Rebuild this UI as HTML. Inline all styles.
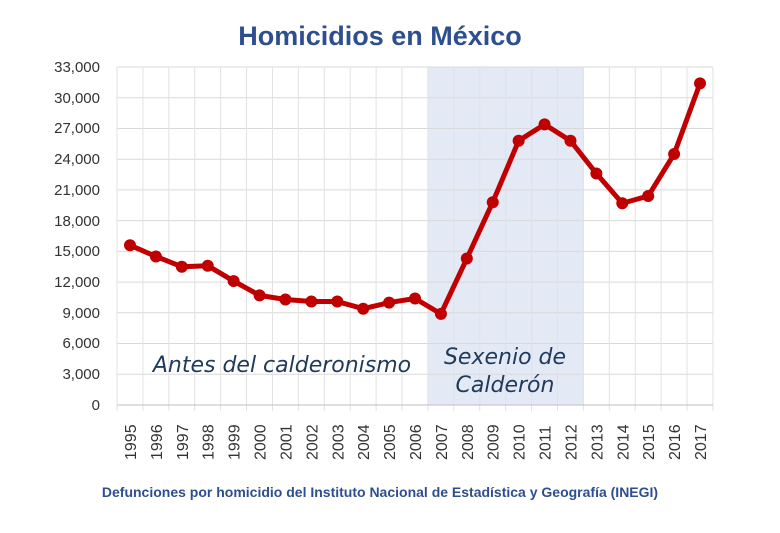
<!DOCTYPE html>
<html><head><meta charset="utf-8"><style>
html,body{margin:0;padding:0;background:#fff;}
svg{display:block;}
</style></head><body>
<svg width="780" height="533" xmlns="http://www.w3.org/2000/svg" font-family="Liberation Sans, sans-serif">
<rect width="780" height="533" fill="#fff"/>
<text x="380" y="45" text-anchor="middle" font-size="27" font-weight="bold" fill="#2e4f8f">Homicidios en México</text>
<rect x="428" y="67" width="156" height="338" fill="#e3e9f5"/>
<g stroke="#d9d9d9" stroke-width="1">
<line x1="117" y1="67" x2="713" y2="67"/><line x1="117" y1="97.7" x2="713" y2="97.7"/><line x1="117" y1="128.5" x2="713" y2="128.5"/><line x1="117" y1="159.2" x2="713" y2="159.2"/><line x1="117" y1="189.9" x2="713" y2="189.9"/><line x1="117" y1="220.6" x2="713" y2="220.6"/><line x1="117" y1="251.4" x2="713" y2="251.4"/><line x1="117" y1="282.1" x2="713" y2="282.1"/><line x1="117" y1="312.8" x2="713" y2="312.8"/><line x1="117" y1="343.5" x2="713" y2="343.5"/><line x1="117" y1="374.3" x2="713" y2="374.3"/>
</g>
<g stroke="#e2e2e2" stroke-width="1" id="vg"></g>
<line x1="117" y1="405" x2="713" y2="405" stroke="#bfbfbf"/>
<g font-size="15" fill="#333" text-anchor="end">
<text x="100" y="72">33,000</text><text x="100" y="103">30,000</text><text x="100" y="133">27,000</text><text x="100" y="164">24,000</text><text x="100" y="195">21,000</text><text x="100" y="226">18,000</text><text x="100" y="256">15,000</text><text x="100" y="287">12,000</text><text x="100" y="318">9,000</text><text x="100" y="348">6,000</text><text x="100" y="379">3,000</text><text x="100" y="410">0</text>
</g>
<g id="xl" font-size="16" fill="#333"></g>
<text x="282" y="372" text-anchor="middle" font-size="22" font-style="italic" fill="#1f3a5a" font-family="DejaVu Sans, sans-serif">Antes del calderonismo</text>
<text x="505" y="364" text-anchor="middle" font-size="22" font-style="italic" fill="#1f3a5a" font-family="DejaVu Sans, sans-serif">Sexenio de</text>
<text x="505" y="392" text-anchor="middle" font-size="22" font-style="italic" fill="#1f3a5a" font-family="DejaVu Sans, sans-serif">Calderón</text>
<polyline id="ln" fill="none" stroke="#c00000" stroke-width="5" stroke-linejoin="round"/>
<g id="pts" fill="#c00000"></g>
<text x="380" y="497" text-anchor="middle" font-size="14" font-weight="bold" fill="#2e4f8f">Defunciones por homicidio del Instituto Nacional de Estadística y Geografía (INEGI)</text>
<script>
var d=[15600,14500,13500,13600,12100,10700,10300,10100,10100,9400,10000,10400,8900,14300,19800,25800,27400,25800,22600,19700,20400,24500,31400];
var ns="http://www.w3.org/2000/svg",pts=[],vg=document.getElementById('vg'),xl=document.getElementById('xl'),pg=document.getElementById('pts');
for(var i=0;i<=23;i++){var x=117+i*25.91;var l=document.createElementNS(ns,'line');l.setAttribute('x1',x);l.setAttribute('x2',x);l.setAttribute('y1',67);l.setAttribute('y2',411);vg.appendChild(l);}
d.forEach(function(v,i){var x=130+i*25.91,y=405-v/33000*338;pts.push(x+','+y);
var c=document.createElementNS(ns,'circle');c.setAttribute('cx',x);c.setAttribute('cy',y);c.setAttribute('r',6);pg.appendChild(c);
var t=document.createElementNS(ns,'text');t.setAttribute('transform','translate('+(x+6)+',460) rotate(-90)');t.textContent=1995+i;xl.appendChild(t);});
document.getElementById('ln').setAttribute('points',pts.join(' '));
</script>
</svg>
</body></html>
